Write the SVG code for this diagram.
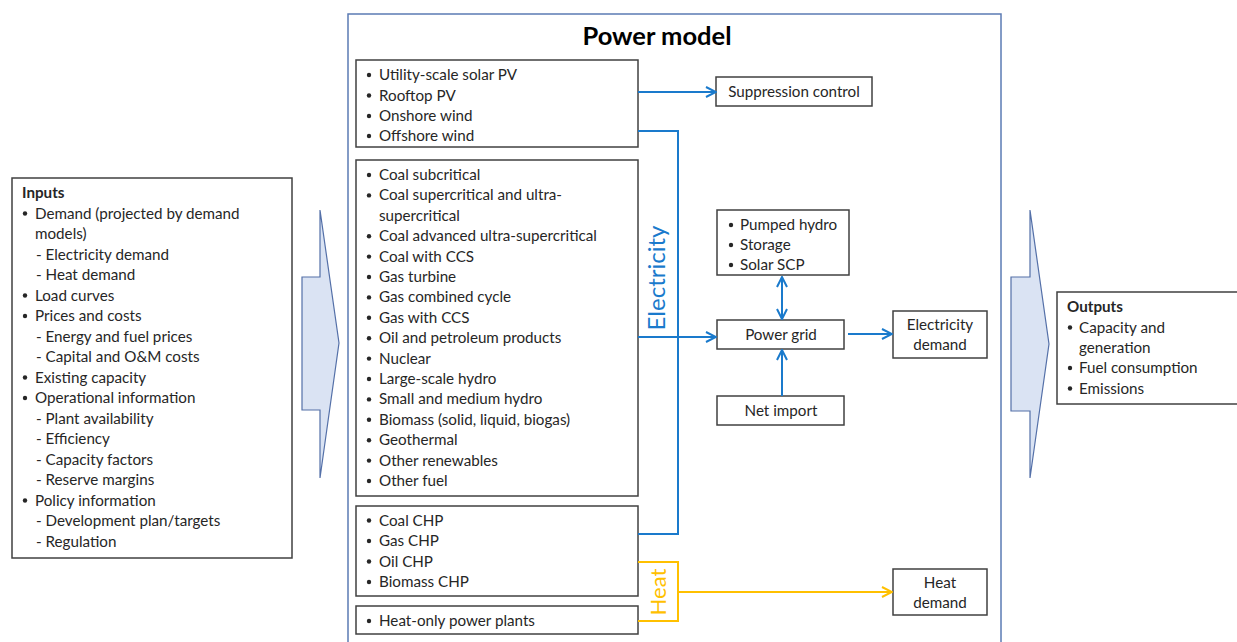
<svg xmlns="http://www.w3.org/2000/svg" width="1237" height="642" viewBox="0 0 1237 642">
<style>
.box{fill:#fff;stroke:#404040;stroke-width:1.5}
.t{font-family:Lato,"Liberation Sans",sans-serif;font-size:15.2px;fill:#262626}
.b{font-weight:bold}
.c{text-anchor:middle}
.bul{fill:#262626}
.el{fill:none;stroke:#1a7acc;stroke-width:2}
.ht{fill:none;stroke:#ffc000;stroke-width:2}
.big{fill:#dae3f3;stroke:#5470a8;stroke-width:1.2}
</style>
<defs>
<marker id="ab" viewBox="0 0 12 12" refX="11" refY="6" markerWidth="12" markerHeight="12" markerUnits="userSpaceOnUse" orient="auto-start-reverse"><path d="M1,1 L11,6 L1,11" fill="none" stroke="#1a7acc" stroke-width="2"/></marker>
<marker id="ao" viewBox="0 0 12 12" refX="11" refY="6" markerWidth="12" markerHeight="12" markerUnits="userSpaceOnUse" orient="auto"><path d="M1,1 L11,6 L1,11" fill="none" stroke="#ffc000" stroke-width="2"/></marker>
</defs>
<rect width="1237" height="642" fill="#fff"/>
<g id="power-model">
<rect x="348" y="14" width="653" height="640" fill="#fff" stroke="#5b7bb4" stroke-width="1.5"/>
<text class="t b c" x="657" y="45" style="font-size:25.5px;fill:#000">Power model</text>
</g>
<g id="in-arrow"><polygon class="big" points="302,277 320,277 320,210 339,343 320,478 320,410 302,410"/></g>
<g id="out-arrow"><polygon class="big" points="1011,277 1030,277 1030,210 1049,344 1030,478 1030,411 1011,411"/></g>
<g id="inputs">
<rect class="box" x="12" y="178" width="280" height="380"/>
<text class="t b" x="22" y="198">Inputs</text>
<g class="bul"><circle cx="25" cy="213.5" r="2.2"/><circle cx="25" cy="295.5" r="2.2"/><circle cx="25" cy="316" r="2.2"/><circle cx="25" cy="377.5" r="2.2"/><circle cx="25" cy="398" r="2.2"/><circle cx="25" cy="500.5" r="2.2"/></g>
<text class="t" x="35" y="218.5">Demand (projected by demand</text>
<text class="t" x="35" y="239">models)</text>
<text class="t" x="36" y="259.5">-  Electricity demand</text>
<text class="t" x="36" y="280">-  Heat demand</text>
<text class="t" x="35" y="300.5">Load curves</text>
<text class="t" x="35" y="321">Prices and costs</text>
<text class="t" x="36" y="341.5">-  Energy and fuel prices</text>
<text class="t" x="36" y="362">-  Capital and O&amp;M costs</text>
<text class="t" x="35" y="382.5">Existing capacity</text>
<text class="t" x="35" y="403">Operational information</text>
<text class="t" x="36" y="423.5">-  Plant availability</text>
<text class="t" x="36" y="444">-  Efficiency</text>
<text class="t" x="36" y="464.5">-  Capacity factors</text>
<text class="t" x="36" y="485">-  Reserve margins</text>
<text class="t" x="35" y="505.5">Policy information</text>
<text class="t" x="36" y="526">-  Development plan/targets</text>
<text class="t" x="36" y="546.5">-  Regulation</text>
</g>
<g id="renewables">
<rect class="box" x="356" y="60" width="282" height="87"/>
<g class="bul"><circle cx="369" cy="75" r="2.2"/><circle cx="369" cy="95.5" r="2.2"/><circle cx="369" cy="116" r="2.2"/><circle cx="369" cy="136" r="2.2"/></g>
<text class="t" x="379" y="80">Utility-scale solar PV</text>
<text class="t" x="379" y="100.5">Rooftop PV</text>
<text class="t" x="379" y="121">Onshore wind</text>
<text class="t" x="379" y="141">Offshore wind</text>
</g>
<g id="conventional">
<rect class="box" x="356" y="160" width="282" height="336"/>
<g class="bul"><circle cx="369" cy="175" r="2.2"/><circle cx="369" cy="195.4" r="2.2"/><circle cx="369" cy="236.2" r="2.2"/><circle cx="369" cy="256.6" r="2.2"/><circle cx="369" cy="277" r="2.2"/><circle cx="369" cy="297.4" r="2.2"/><circle cx="369" cy="317.8" r="2.2"/><circle cx="369" cy="338.2" r="2.2"/><circle cx="369" cy="358.6" r="2.2"/><circle cx="369" cy="379" r="2.2"/><circle cx="369" cy="399.4" r="2.2"/><circle cx="369" cy="419.8" r="2.2"/><circle cx="369" cy="440.2" r="2.2"/><circle cx="369" cy="460.6" r="2.2"/><circle cx="369" cy="481" r="2.2"/></g>
<text class="t" x="379" y="180">Coal subcritical</text>
<text class="t" x="379" y="200.4">Coal supercritical and ultra-</text>
<text class="t" x="379" y="220.8">supercritical</text>
<text class="t" x="379" y="241.2">Coal advanced ultra-supercritical</text>
<text class="t" x="379" y="261.6">Coal with CCS</text>
<text class="t" x="379" y="282">Gas turbine</text>
<text class="t" x="379" y="302.4">Gas combined cycle</text>
<text class="t" x="379" y="322.8">Gas with CCS</text>
<text class="t" x="379" y="343.2">Oil and petroleum products</text>
<text class="t" x="379" y="363.6">Nuclear</text>
<text class="t" x="379" y="384">Large-scale hydro</text>
<text class="t" x="379" y="404.4">Small and medium hydro</text>
<text class="t" x="379" y="424.8">Biomass (solid, liquid, biogas)</text>
<text class="t" x="379" y="445.2">Geothermal</text>
<text class="t" x="379" y="465.6">Other renewables</text>
<text class="t" x="379" y="486">Other fuel</text>
</g>
<g id="chp">
<rect class="box" x="356" y="506" width="282" height="90"/>
<g class="bul"><circle cx="369" cy="520.5" r="2.2"/><circle cx="369" cy="541" r="2.2"/><circle cx="369" cy="561.5" r="2.2"/><circle cx="369" cy="582" r="2.2"/></g>
<text class="t" x="379" y="525.5">Coal CHP</text>
<text class="t" x="379" y="546">Gas CHP</text>
<text class="t" x="379" y="566.5">Oil CHP</text>
<text class="t" x="379" y="587">Biomass CHP</text>
</g>
<g id="heat-only">
<rect class="box" x="356" y="606" width="282" height="28"/>
<circle class="bul" cx="369" cy="621" r="2.2"/>
<text class="t" x="379" y="626">Heat-only power plants</text>
</g>
<g id="suppression">
<rect class="box" x="716" y="77" width="156" height="29"/>
<text class="t c" x="794" y="97">Suppression control</text>
</g>
<g id="storage">
<rect class="box" x="717" y="210" width="132" height="65"/>
<g class="bul"><circle cx="731" cy="225" r="2.2"/><circle cx="731" cy="245" r="2.2"/><circle cx="731" cy="265" r="2.2"/></g>
<text class="t" x="740" y="230">Pumped hydro</text>
<text class="t" x="740" y="250">Storage</text>
<text class="t" x="740" y="270">Solar SCP</text>
</g>
<g id="power-grid">
<rect class="box" x="717" y="320" width="127" height="29"/>
<text class="t c" x="781" y="340">Power grid</text>
</g>
<g id="net-import">
<rect class="box" x="717" y="396" width="127" height="29"/>
<text class="t c" x="781" y="416">Net import</text>
</g>
<g id="elec-demand">
<rect class="box" x="893" y="311" width="94" height="47"/>
<text class="t c" x="940" y="330">Electricity</text>
<text class="t c" x="940" y="350">demand</text>
</g>
<g id="heat-demand">
<rect class="box" x="893" y="569" width="94" height="46"/>
<text class="t c" x="940" y="588">Heat</text>
<text class="t c" x="940" y="608">demand</text>
</g>
<g id="outputs">
<rect class="box" x="1057" y="292" width="186" height="112"/>
<text class="t b" x="1067" y="312">Outputs</text>
<g class="bul"><circle cx="1070" cy="327.5" r="2.2"/><circle cx="1070" cy="368" r="2.2"/><circle cx="1070" cy="388.5" r="2.2"/></g>
<text class="t" x="1079" y="332.5">Capacity and</text>
<text class="t" x="1079" y="353">generation</text>
<text class="t" x="1079" y="373">Fuel consumption</text>
<text class="t" x="1079" y="393.5">Emissions</text>
</g>
<g id="connectors">
<line class="el" x1="638" y1="92" x2="716" y2="92" marker-end="url(#ab)"/>
<polyline class="el" points="638,131 678,131 678,534 638,534"/>
<line class="el" x1="638" y1="337" x2="716" y2="337" marker-end="url(#ab)"/>
<line class="el" x1="782" y1="277" x2="782" y2="319" marker-start="url(#ab)" marker-end="url(#ab)"/>
<line class="el" x1="782" y1="396" x2="782" y2="350" marker-end="url(#ab)"/>
<line class="el" x1="848" y1="334" x2="892" y2="334" marker-end="url(#ab)"/>
<polyline class="ht" points="638,562 678,562 678,621 638,621"/>
<line class="ht" x1="678" y1="592" x2="892" y2="592" marker-end="url(#ao)"/>
<text class="t c" transform="translate(665,278) rotate(-90)" style="font-size:24px;fill:#1a7acc">Electricity</text>
<text class="t c" transform="translate(666,592) rotate(-90)" style="font-size:22px;fill:#ffc000">Heat</text>
</g>
</svg>
